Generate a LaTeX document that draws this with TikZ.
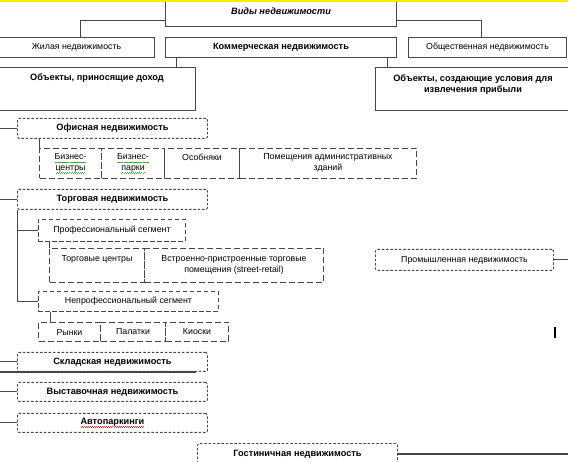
\documentclass[tikz,border=0pt]{standalone}
\usepackage{fontspec}
\setmainfont{Liberation Sans}
\usepackage{xcolor}
\usepackage{tikz}
\usetikzlibrary{calc}

\definecolor{topyellow}{RGB}{255,232,0}
\definecolor{linegray}{RGB}{70,70,70}
\definecolor{spellgreen}{RGB}{70,165,70}
\definecolor{spellred}{RGB}{225,40,40}

\newcommand\boxfont{\fontsize{8.8}{10.5}\selectfont}
\newcommand\headfont{\fontsize{9.2}{11}\selectfont\bfseries}
%wavy spell-check underline: colour, text
\newcommand\spellwave[2]{\leavevmode\setbox0\hbox{#2}\rlap{\textcolor{#1}{\lower3pt\hbox to\wd0{\xleaders\hbox{\rule{1pt}{0.6pt}\raisebox{0.7pt}{\rule{1pt}{0.6pt}}}\hfil}}}\box0}

\tikzset{conn line/.style={draw=linegray,line width=1pt}}

\begin{document}
\begin{tikzpicture}[x=1pt,y=-1pt,font=\boxfont,
    solid box/.style={rectangle,draw=linegray,line width=1pt,anchor=north west,inner sep=0pt,align=center},
    group box/.style={rectangle,draw=linegray,line width=0.9pt,dash pattern=on 2.5pt off 1.8pt,rounded corners=1.5pt,anchor=north west,inner sep=0pt,font=\headfont},
    segment box/.style={rectangle,draw=linegray,line width=0.9pt,dash pattern=on 4.5pt off 2.5pt,anchor=north west,inner sep=0pt},
    cell/.style={rectangle,draw=linegray,line width=1pt,dash pattern=on 6pt off 3pt,anchor=north west,inner sep=0pt,align=center}]

 \fill[white] (0,0) rectangle (568,462);
 \useasboundingbox (0,0) rectangle (568,462);
 \coordinate (LeftEdge) at (0,0);
 \coordinate (RightEdge) at (568,0);

%Top levels
  \node[solid box,minimum width=231pt,minimum height=30pt,font=\headfont\itshape] (Root) at (165,-4) {Виды недвижимости};

  \node[solid box,minimum width=156pt,minimum height=20pt] (Zhil) at (-2,37) {Жилая недвижимость};
  \node[solid box,minimum width=231pt,minimum height=20pt,font=\headfont] (Komm) at (165,37) {Коммерческая недвижимость};
  \node[solid box,minimum width=158pt,minimum height=20pt] (Obsh) at (408,37) {Общественная недвижимость};

  \node[solid box,minimum width=197pt,inner ysep=4pt,text height=9pt,text depth=26pt,font=\headfont] (ObjDohod) at (-2,67) {Объекты, приносящие доход};
  \node[solid box,minimum width=195pt,inner ysep=4pt,text height=21.5pt,text depth=13.5pt,font=\headfont] (ObjUsl) at (375,67) {Объекты, создающие условия для\\извлечения прибыли};

  \draw[conn line] ([yshift=6pt]Root.south west) -| ([xshift=4pt]Zhil.north);
  \draw[conn line] ([yshift=6pt]Root.south east) -| ([xshift=-6pt]Obsh.north);
  \draw[conn line] ([xshift=11pt]Komm.south west) -- ([xshift=11pt]Komm.south west |- ObjDohod.north);
  \draw[conn line] ([xshift=-10pt]Komm.south east) -- ([xshift=-10pt]Komm.south east |- ObjUsl.north);

%Office
  \node[group box,minimum width=190pt,minimum height=20pt] (Ofis) at (17,118) {Офисная недвижимость};
  \node[cell,minimum width=62pt,text height=22pt,text depth=8pt] (BizCentr) at (39,148) {\spellwave{spellgreen}{Бизнес-}\\\spellwave{spellgreen}{центры}};
  \node[cell,minimum width=63pt,text height=22pt,text depth=8pt] (BizPark) at (101,148) {\spellwave{spellgreen}{Бизнес-}\\\spellwave{spellgreen}{парки}};
  \node[cell,minimum width=75pt,text height=12pt,text depth=18pt] (Osob) at (164,148) {Особняки};
  \node[cell,minimum width=177pt,text height=22pt,text depth=8pt] (Pomesh) at (239,148) {Помещения административных\\зданий};
  \draw[conn line] (BizCentr.north west |- Ofis.south) -- (BizCentr.north west);

%Trade
  \node[group box,minimum width=190pt,minimum height=20pt] (Torg) at (17,189) {Торговая недвижимость};
  \node[segment box,minimum width=147pt,minimum height=22pt] (Prof) at (38,219) {Профессиональный сегмент};
  \node[cell,minimum width=95pt,text height=13pt,text depth=21pt] (TorgCentr) at (49,248) {Торговые центры};
  \node[cell,minimum width=179pt,text height=24pt,text depth=10pt] (Street) at (144,248) {Встроенно-пристроенные торговые\\помещения (street-retail)};
  \node[segment box,minimum width=180pt,minimum height=20pt] (Neprof) at (38,291) {Непрофессиональный сегмент};
  \node[cell,minimum width=62pt,minimum height=19pt] (Rynki) at (38,322) {Рынки};
  \node[cell,minimum width=65pt,minimum height=19pt] (Palatki) at (100,322) {Палатки};
  \node[cell,minimum width=63pt,minimum height=19pt] (Kioski) at (165,322) {Киоски};

  \draw[conn line] (Torg.south west) |- (Prof.west);
  \draw[conn line] (Torg.south west) |- (Neprof.west);
  \draw[conn line] (TorgCentr.north west |- Prof.south) -- (TorgCentr.north west);
  \draw[conn line] ([xshift=12pt]Rynki.north west |- Neprof.south) -- ([xshift=12pt]Rynki.north west);

%Other kinds
  \node[group box,minimum width=190pt,minimum height=19pt] (Sklad) at (17,352) {Складская недвижимость};
  \node[group box,minimum width=190pt,minimum height=19pt] (Vystav) at (17,382) {Выставочная недвижимость};
  \node[group box,minimum width=190pt,minimum height=19pt] (Avto) at (17,413) {\spellwave{spellred}{Автопаркинги}};
  \node[group box,minimum width=200pt,minimum height=21pt] (Gost) at (197,443) {Гостиничная недвижимость};
  \node[group box,minimum width=178pt,minimum height=21pt,font=\boxfont] (Prom) at (375,249) {Промышленная недвижимость};

  \foreach \n in {Ofis,Torg,Sklad,Vystav,Avto}
   {\draw[conn line] (\n.west) -- (\n.west -| LeftEdge);}
  \draw[conn line,line width=1.4pt] (Sklad.south west -| LeftEdge) -- ([xshift=-12pt]Sklad.south east);
  \draw[conn line] (Prom.east) -- (Prom.east -| RightEdge);
  \draw[conn line,line width=1.4pt] (Gost.east) -- (Gost.east -| RightEdge);

%cursor mark and top band
  \draw[line width=1.6pt] (555,327) -- (555,338);
  \fill[topyellow] (0,0) rectangle (568,2.5);

\end{tikzpicture}
\end{document}
